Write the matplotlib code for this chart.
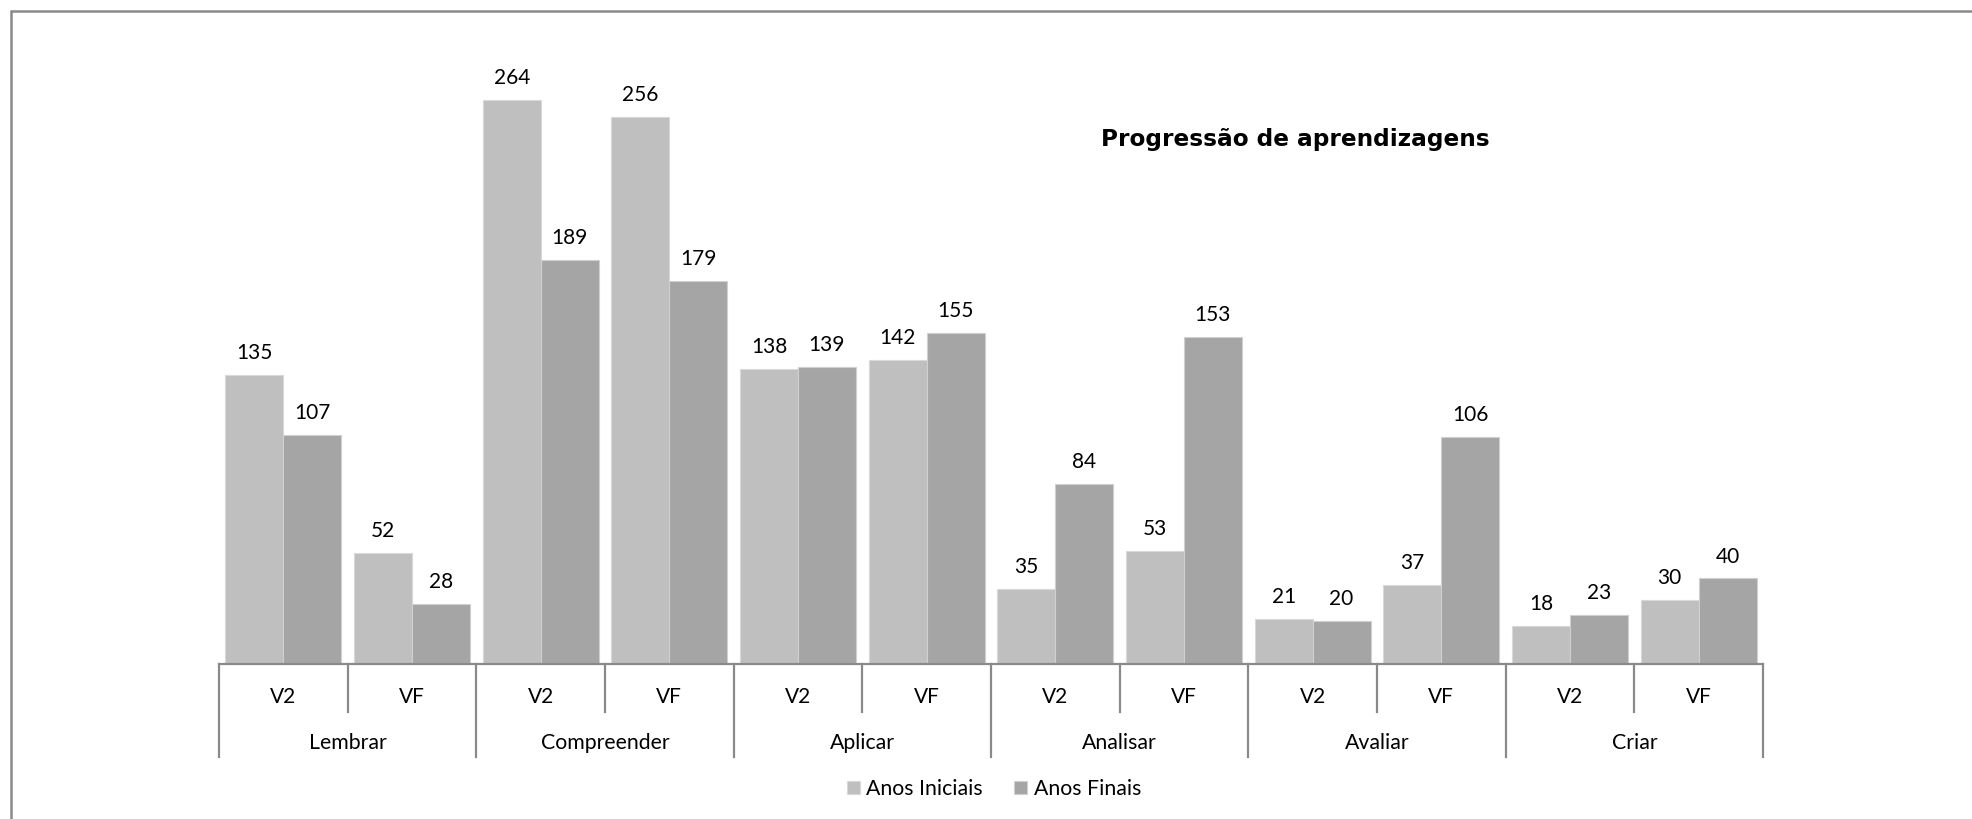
import numpy as np
import matplotlib
matplotlib.use('Agg')
from matplotlib import pyplot as plt
from matplotlib.patches import Rectangle

# dados
categorias = ['Lembrar', 'Compreender', 'Aplicar', 'Analisar', 'Avaliar', 'Criar']
versoes = ['V2', 'VF']
anos_iniciais = [135, 52, 264, 256, 138, 142, 35, 53, 21, 37, 18, 30]
anos_finais = [107, 28, 189, 179, 139, 155, 84, 153, 20, 106, 23, 40]
series = ['Anos Iniciais', 'Anos Finais']
cores = ['#BFBFBF', '#A5A5A5']

plt.rcParams['font.family'] = ['Lato', 'DejaVu Sans']

fig = plt.figure(figsize=(19.72, 8.19), dpi=100)
ax = fig.add_axes([219 / 1972, 155 / 819, 1544 / 1972, 620 / 819])

n = len(anos_iniciais)
x = np.arange(n) + 0.5
w = 0.45
b1 = ax.bar(x - w / 2, anos_iniciais, w, color=cores[0], edgecolor='#D9D9D9', linewidth=0.8, label=series[0])
b2 = ax.bar(x + w / 2, anos_finais, w, color=cores[1], edgecolor='#D0D0D0', linewidth=0.8, label=series[1])

# rotulos de dados
for barras in (b1, b2):
    for r in barras:
        ax.annotate(str(int(r.get_height())), (r.get_x() + r.get_width() / 2, r.get_height()),
                    xytext=(0, 11.5), textcoords='offset points',
                    ha='center', va='baseline', fontsize=15, color='black')

ax.set_xlim(0, n)
ax.set_ylim(0, 290)
ax.set_xticks([])
ax.set_yticks([])
for s in ['top', 'right', 'left']:
    ax.spines[s].set_visible(False)
ax.spines['bottom'].set_color('#8A8A8A')
ax.spines['bottom'].set_linewidth(1.6)

# eixo de categorias em dois niveis
tr = ax.get_xaxis_transform()
for i in range(n + 1):
    y_fim = -0.15 if i % 2 == 0 else -0.0774
    ax.plot([i, i], [0, y_fim], transform=tr, color='#8A8A8A', lw=1.6, clip_on=False)
for i in range(n):
    ax.text(i + 0.5, -0.053, versoes[i % 2], transform=tr, ha='center', va='center', fontsize=15)
for j, c in enumerate(categorias):
    ax.text(2 * j + 1, -0.127, c, transform=tr, ha='center', va='center', fontsize=15.3)

fig.text(0.657, 0.83, 'Progressão de aprendizagens', ha='center', va='center',
         fontsize=16.7, fontweight='bold', family=['DejaVu Sans'])

fig.legend(handles=[b1, b2], labels=series, loc='center', bbox_to_anchor=(0.504, 0.0366),
           ncol=2, frameon=False, fontsize=15.3, handlelength=0.6, handleheight=0.6,
           handletextpad=0.3, columnspacing=1.5)

# borda da area do grafico (so topo e esquerda aparecem)
fig.add_artist(Rectangle((11 / 1972, -0.5), 2, 1.5 - 11 / 819, transform=fig.transFigure,
                         fill=False, edgecolor='#8A8A8A', linewidth=1.8))

plt.savefig('out.png', dpi=100)
